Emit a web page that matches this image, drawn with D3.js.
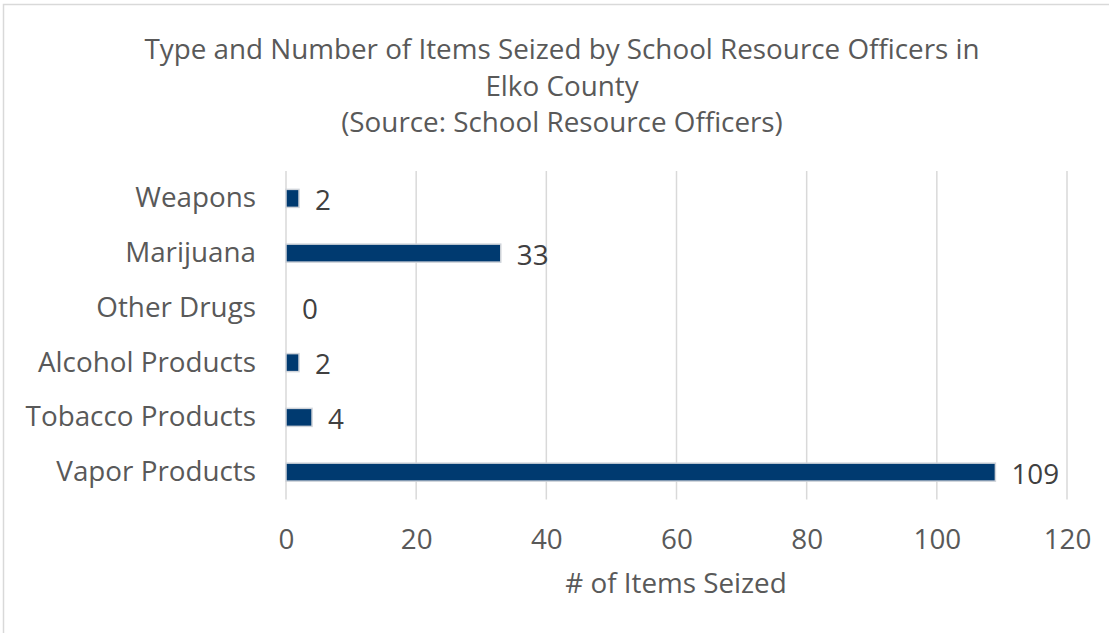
<!DOCTYPE html>
<html><head><meta charset="utf-8">
<script src="https://cdn.jsdelivr.net/npm/d3@7"></script>
<style>body{margin:0;background:#fff;} svg{display:block;} text{font-family:"Open Sans",sans-serif;}</style>
</head><body>
<svg id="c" width="1109" height="633"></svg>
<script>
const categories = ["Weapons","Marijuana","Other Drugs","Alcohol Products","Tobacco Products","Vapor Products"];
const values = [2,33,0,2,4,109];
const xTicks = [0,20,40,60,80,100,120];
const titleLines = ["Type and Number of Items Seized by School Resource Officers in","Elko County","(Source: School Resource Officers)"];
const xTitle = "# of Items Seized";

const FS = 27.8;
const svg = d3.select("#c");
svg.append("rect").attr("x",3.5).attr("y",4.5).attr("width",1120).attr("height",640)
  .attr("fill","#fff").attr("stroke","#d9d9d9").attr("stroke-width",1.5);

const x = d3.scaleLinear().domain([0,120]).range([286,1067]);
const y = d3.scaleBand().domain(categories).range([171,499.5]).paddingInner(0.66).paddingOuter(0.33);

const tcol = "#595959";
svg.append("g").selectAll("text").data(titleLines).join("text")
  .attr("x",562).attr("y",(d,i)=>59+i*36.5).attr("text-anchor","middle")
  .attr("font-size",FS).attr("fill",tcol).text(d=>d);

svg.append("g").selectAll("line").data(xTicks).join("line")
  .attr("x1",d=>x(d)).attr("x2",d=>x(d)).attr("y1",171).attr("y2",499.5)
  .attr("stroke","#d9d9d9").attr("stroke-width",1.5);

const xAxis = svg.append("g").attr("transform","translate(0,499.5)")
  .call(d3.axisBottom(x).tickValues(xTicks).tickSize(0).tickPadding(30));
xAxis.select(".domain").remove();
xAxis.selectAll("text").attr("font-size",FS).attr("fill",tcol).attr("font-family","Open Sans");

const yAxis = svg.append("g").attr("transform","translate(286,0)")
  .call(d3.axisLeft(y).tickSize(0).tickPadding(30));
yAxis.select(".domain").remove();
yAxis.selectAll("text").attr("font-size",FS).attr("fill",tcol).attr("font-family","Open Sans");

const bw = 18;
svg.append("g").selectAll("rect").data(categories).join("rect")
  .attr("x",x(0)).attr("y",d=>y(d)+y.bandwidth()/2-bw/2)
  .attr("width",(d,i)=>x(values[i])-x(0)).attr("height",bw)
  .attr("fill",(d,i)=>values[i]>0?"#003a70":"none")
  .attr("stroke",(d,i)=>values[i]>0?"#d0d4da":"none").attr("stroke-width",1.5);

svg.append("g").selectAll("text").data(categories).join("text")
  .attr("x",(d,i)=>x(values[i])+16).attr("y",d=>y(d)+y.bandwidth()/2+1)
  .attr("dy","0.38em").attr("font-size",FS).attr("fill","#404040")
  .text((d,i)=>values[i]);

svg.append("text").attr("x",676).attr("y",593).attr("text-anchor","middle")
  .attr("font-size",FS).attr("fill",tcol).text(xTitle);
</script>
</body></html>
